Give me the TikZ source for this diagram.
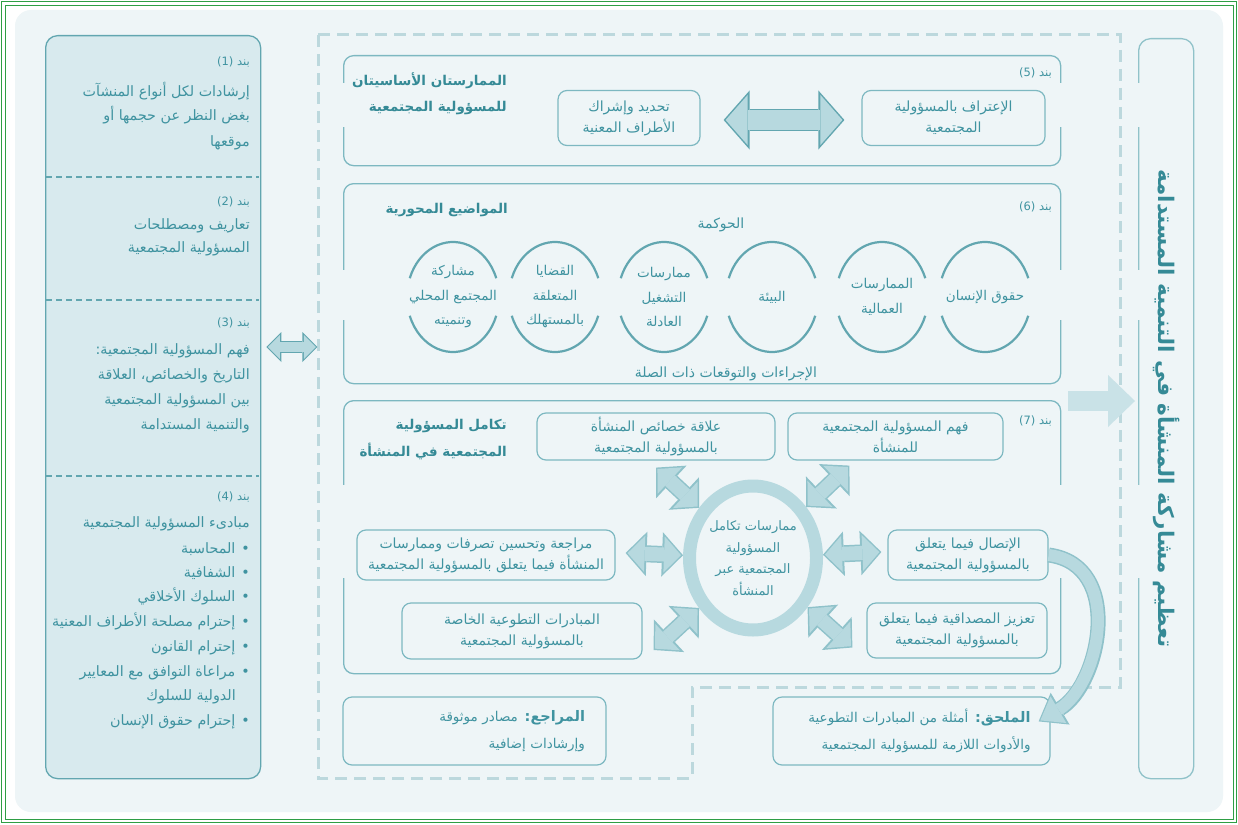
\documentclass[tikz,border=0pt]{standalone}
\usepackage{fontspec}
\newfontfamily\arabicfont[Script=Arabic]{DejaVu Sans}
\TeXXeTstate=1
\usetikzlibrary{arrows.meta,calc,shapes.geometric}
\definecolor{bgpanel}{HTML}{EEF5F7}
\definecolor{lpfill}{HTML}{D8EAEE}
\definecolor{lpedge}{HTML}{62A6B0}
\definecolor{boxedge}{HTML}{7DB8C1}
\definecolor{arrowedge}{HTML}{8FC2CA}
\definecolor{txt}{HTML}{3F93A0}
\definecolor{headc}{HTML}{358A96}
\definecolor{lite}{HTML}{B7D9DF}
\definecolor{dashc}{HTML}{BCD8DD}
\definecolor{grn}{HTML}{2E9E44}
\newcommand\ar[1]{\beginR #1\endR}
\newcommand\fatarrow[3]{\draw[#1 outer] #2 -- #3; \draw[#1 inner] #2 -- #3;}
\tikzset{
  body/.style={font=\arabicfont\fontsize{14.3}{16}\selectfont, text=txt, inner sep=0pt, anchor=base east},
  bandlbl/.style={font=\arabicfont\fontsize{11.5}{13}\selectfont, text=txt, inner sep=0pt, anchor=base east},
  hd/.style={font=\arabicfont\bfseries\fontsize{13.5}{16}\selectfont, text=headc, inner sep=0pt, anchor=base east},
  lbl/.style={font=\arabicfont\fontsize{14}{16}\selectfont, text=txt, inner sep=0pt, anchor=base},
  frame/.style={draw=boxedge, line width=1.3pt, rounded corners=10pt, anchor=north west, inner sep=0pt},
  sbox/.style={draw=boxedge, line width=1.2pt, rounded corners=9pt, align=center, inner sep=0pt,
     font=\arabicfont\fontsize{14}{21}\selectfont, text=txt},
  circtxt/.style={align=center, inner sep=0pt, font=\arabicfont\fontsize{13.5}{24.5}\selectfont, text=txt},
  arcline/.style={draw=lpedge, line width=2.2pt},
  fa7 outer/.style={draw=arrowedge, line width=17pt,
     {Triangle[width=44.5pt,length=21pt,line width=0pt]}-{Triangle[width=44.5pt,length=21pt,line width=0pt]}},
  fa7 inner/.style={draw=lite, line width=14pt, shorten <=2pt, shorten >=2pt,
     {Triangle[width=36pt,length=17pt,line width=0pt]}-{Triangle[width=36pt,length=17pt,line width=0pt]}},
  fa5 outer/.style={draw=lpedge, line width=22pt,
     {Triangle[width=59pt,length=26pt,line width=0pt]}-{Triangle[width=59pt,length=26pt,line width=0pt]}},
  fa5 inner/.style={draw=lite, line width=19pt, shorten <=2pt, shorten >=2pt,
     {Triangle[width=50pt,length=22pt,line width=0pt]}-{Triangle[width=50pt,length=22pt,line width=0pt]}},
  fal outer/.style={draw=lpedge, line width=12pt,
     {Triangle[width=30pt,length=15pt,line width=0pt]}-{Triangle[width=30pt,length=15pt,line width=0pt]}},
  fal inner/.style={draw=lite, line width=9.5pt, shorten <=1.5pt, shorten >=1.5pt,
     {Triangle[width=24pt,length=12pt,line width=0pt]}-{Triangle[width=24pt,length=12pt,line width=0pt]}},
}
\begin{document}
\begin{tikzpicture}[x=1pt,y=-1pt]
\useasboundingbox (0,0) rectangle (1238,824);
\fill[white] (0,0) rectangle (1238,824);
\draw[grn, line width=1.5pt] (1.5,1.5) rectangle (1236.5,822.5);
\draw[grn, line width=0.8pt] (5,5) rectangle (1233,819);
\fill[bgpanel, rounded corners=16pt] (15,10) rectangle (1223,812);

% big dashed region
\draw[dashc, line width=3pt, dash pattern=on 12pt off 7pt]
  (318,35) -- (1120,35) -- (1120,687) -- (692,687) -- (692,778) -- (318,778) -- cycle;

% left panel
\node[draw=lpedge, fill=lpfill, line width=1.3pt, rounded corners=12pt, anchor=north west,
      minimum width=215pt, minimum height=743pt, inner sep=0pt] (LP) at (45,35) {};
\foreach \yy in {177,300,476}
  \draw[lpedge, line width=1.2pt, dash pattern=on 6pt off 4pt] (46,\yy) -- (259,\yy);

\node[bandlbl] (p1b) at (250,66) {\ar{بند \beginL(1)\endL}};
\foreach \yy/\lbltext [count=\i] in {96/{إرشادات لكل أنواع المنشآت},121/{بغض النظر عن حجمها أو},146/{موقعها}}
  \node[body] (p1l\i) at (250,\yy) {\ar{\lbltext}};
\node[bandlbl] (p2b) at (250,205) {\ar{بند \beginL(2)\endL}};
\foreach \yy/\lbltext [count=\i] in {229/{تعاريف ومصطلحات},252/{المسؤولية المجتمعية}}
  \node[body] (p2l\i) at (250,\yy) {\ar{\lbltext}};
\node[bandlbl] (p3b) at (250,326) {\ar{بند \beginL(3)\endL}};
\foreach \yy/\lbltext [count=\i] in {354/{فهم المسؤولية المجتمعية:},379/{التاريخ والخصائص، العلاقة},404/{بين المسؤولية المجتمعية},429/{والتنمية المستدامة}}
  \node[body] (p3l\i) at (250,\yy) {\ar{\lbltext}};
\node[bandlbl] (p4b) at (250,500) {\ar{بند \beginL(4)\endL}};
\node[body] (p4h) at (250,527) {\ar{مبادىء المسؤولية المجتمعية}};
\foreach \yy/\lbltext [count=\i] in {553/{المحاسبة},577/{الشفافية},601/{السلوك الأخلاقي},626/{إحترام مصلحة الأطراف المعنية},651/{إحترام القانون},676/{مراعاة التوافق مع المعايير},725/{إحترام حقوق الإنسان}}
  \node[body] (p4l\i) at (250,\yy) {\ar{•\hspace{6pt}\lbltext}};
\node[body] (p4c) at (236,700) {\ar{الدولية للسلوك}};

% left double arrow
\coordinate (la1) at ($(LP.north east)+(5,312)$);
\coordinate (la2) at ($(LP.north east)+(56,312)$);
\fatarrow{fal}{(la1)}{(la2)}

% frames
\node[frame, minimum width=717pt, minimum height=110pt] (f5) at (343,55) {};
\node[frame, minimum width=717pt, minimum height=200pt] (f6) at (343,183) {};
\node[frame, minimum width=717pt, minimum height=273pt] (f7) at (343,400) {};
\node[draw=boxedge!70!dashc, line width=1.3pt, rounded corners=12pt, anchor=north west, inner sep=0pt,
      minimum width=55pt, minimum height=740pt] (R) at (1138,38) {};
\foreach \gx in {343,1060,1138}
  \foreach \ga/\gb in {83/127,270/320,485/578}
    \fill[bgpanel] (\gx-2.5,\ga) rectangle (\gx+2.5,\gb);

% vertical title
\node[rotate=-90, font=\arabicfont\bfseries\fontsize{21.5}{24}\selectfont, text=headc, inner sep=0pt]
  (Rt) at (R.center) {\ar{تعظيم مشاركة المنشأة في التنمية المستدامة}};

% big arrow into right box
\coordinate (bigtail) at (1068,401);
\draw[draw=lite!75!white, line width=20pt, -{Triangle[width=52pt,length=27pt,line width=0pt]}]
  (bigtail) -- ($(R.west |- bigtail)+(-3,0)$);

% box 5
\node[hd] (h5a) at (507,86) {\ar{الممارستان الأساسيتان}};
\node[hd] (h5b) at (507,112) {\ar{للمسؤولية المجتمعية}};
\node[bandlbl] (n5) at (1052,77) {\ar{بند \beginL(5)\endL}};
\node[sbox, minimum width=142pt, minimum height=55pt] (b5L) at (629,118) {\ar{تحديد وإشراك}\\\ar{الأطراف المعنية}};
\node[sbox, minimum width=183pt, minimum height=55pt] (b5R) at (953.5,118) {\ar{الإعتراف بالمسؤولية}\\\ar{المجتمعية}};
\fatarrow{fa5}{($(b5L.east)+(23,2)$)}{($(b5R.west)+(-17,2)$)}

% box 6
\node[hd] (h6) at (508,213) {\ar{المواضيع المحورية}};
\node[bandlbl] (n6) at (1052,210) {\ar{بند \beginL(6)\endL}};
\node[lbl] (gov) at (721,228) {\ar{الحوكمة}};
\node[lbl] (proc) at (726,377) {\ar{الإجراءات والتوقعات ذات الصلة}};
\node[circtxt] (c1) at (453,297) {\ar{مشاركة}\\\ar{المجتمع المحلي}\\\ar{وتنميته}};
\node[circtxt] (c2) at (555,297) {\ar{القضايا}\\\ar{المتعلقة}\\\ar{بالمستهلك}};
\node[circtxt] (c3) at (664,297) {\ar{ممارسات}\\\ar{التشغيل}\\\ar{العادلة}};
\node[circtxt] (c4) at (772,297) {\ar{البيئة}};
\node[circtxt] (c5) at (882,297) {\ar{الممارسات}\\\ar{العمالية}};
\node[circtxt] (c6) at (985,297) {\ar{حقوق الإنسان}};
\foreach \c in {c1,c2,c3,c4,c5,c6} {
  \draw[arcline] ($(\c.center)+(20:46 and 55)$) arc[start angle=20, end angle=160, x radius=46, y radius=55];
  \draw[arcline] ($(\c.center)+(200:46 and 55)$) arc[start angle=200, end angle=340, x radius=46, y radius=55];
}

% box 7
\node[hd] (h7a) at (507,429) {\ar{تكامل المسؤولية}};
\node[hd] (h7b) at (507,456) {\ar{المجتمعية في المنشأة}};
\node[bandlbl] (n7) at (1052,424) {\ar{بند \beginL(7)\endL}};
\node[sbox, minimum width=238pt, minimum height=47pt] (A) at (656,436.5) {\ar{علاقة خصائص المنشأة}\\\ar{بالمسؤولية المجتمعية}};
\node[sbox, minimum width=215pt, minimum height=47pt] (B) at (895.5,436.5) {\ar{فهم المسؤولية المجتمعية}\\\ar{للمنشأة}};
\node[sbox, minimum width=258pt, minimum height=50pt] (C) at (486,555) {\ar{مراجعة وتحسين تصرفات وممارسات}\\\ar{المنشأة فيما يتعلق بالمسؤولية المجتمعية}};
\node[sbox, minimum width=240pt, minimum height=56pt] (D) at (522,631) {\ar{المبادرات التطوعية الخاصة}\\\ar{بالمسؤولية المجتمعية}};
\node[sbox, minimum width=160pt, minimum height=50pt] (E) at (968,555) {\ar{الإتصال فيما يتعلق}\\\ar{بالمسؤولية المجتمعية}};
\node[sbox, minimum width=180pt, minimum height=55pt] (F) at (957,630.5) {\ar{تعزيز المصداقية فيما يتعلق}\\\ar{بالمسؤولية المجتمعية}};
\node[ellipse, draw=lite, line width=13pt, minimum width=127pt, minimum height=144pt, inner sep=0pt, align=center,
      font=\arabicfont\fontsize{13}{21.5}\selectfont, text=txt] (ring) at (753,558)
  {\ar{ممارسات تكامل}\\\ar{المسؤولية}\\\ar{المجتمعية عبر}\\\ar{المنشأة}};
\fatarrow{fa7}{($(A.south)+(0,7)$)}{(ring)}
\fatarrow{fa7}{($(B.south west)+(62,5)$)}{(ring)}
\fatarrow{fa7}{($(C.east)+(10,-2)$)}{(ring)}
\fatarrow{fa7}{($(E.west)+(-6,-3)$)}{(ring)}
\fatarrow{fa7}{($(D.east)+(11,19)$)}{(ring)}
\fatarrow{fa7}{($(F.west)+(-14,17)$)}{(ring)}

% bottom boxes
\node[sbox, minimum width=263pt, minimum height=68pt, text width=221pt, align=right,
      font=\arabicfont\fontsize{13.5}{27}\selectfont] (G) at (474.5,731)
  {\ar{{\bfseries\fontsize{14.5}{27}\selectfont المراجع:} مصادر موثوقة}\\\ar{وإرشادات إضافية}};
\node[sbox, minimum width=277pt, minimum height=68pt, text width=238pt, align=right,
      font=\arabicfont\fontsize{13.5}{27}\selectfont] (H) at (911.5,731)
  {\ar{{\bfseries\fontsize{14.5}{27}\selectfont الملحق:} أمثلة من المبادرات التطوعية}\\\ar{والأدوات اللازمة للمسؤولية المجتمعية}};

% curved arrow E -> H
\coordinate (htip) at ($(H.north east)+(-12,25)$);
\draw[draw=arrowedge, line width=15pt, -{Triangle[width=37pt,length=25pt,line width=0pt]}]
  (E.east) .. controls (1125,565) and (1100,685) .. (htip);
\draw[draw=lite, line width=12pt, shorten >=2pt, -{Triangle[width=31pt,length=21pt,line width=0pt]}]
  (E.east) .. controls (1125,565) and (1100,685) .. (htip);
\end{tikzpicture}
\end{document}
